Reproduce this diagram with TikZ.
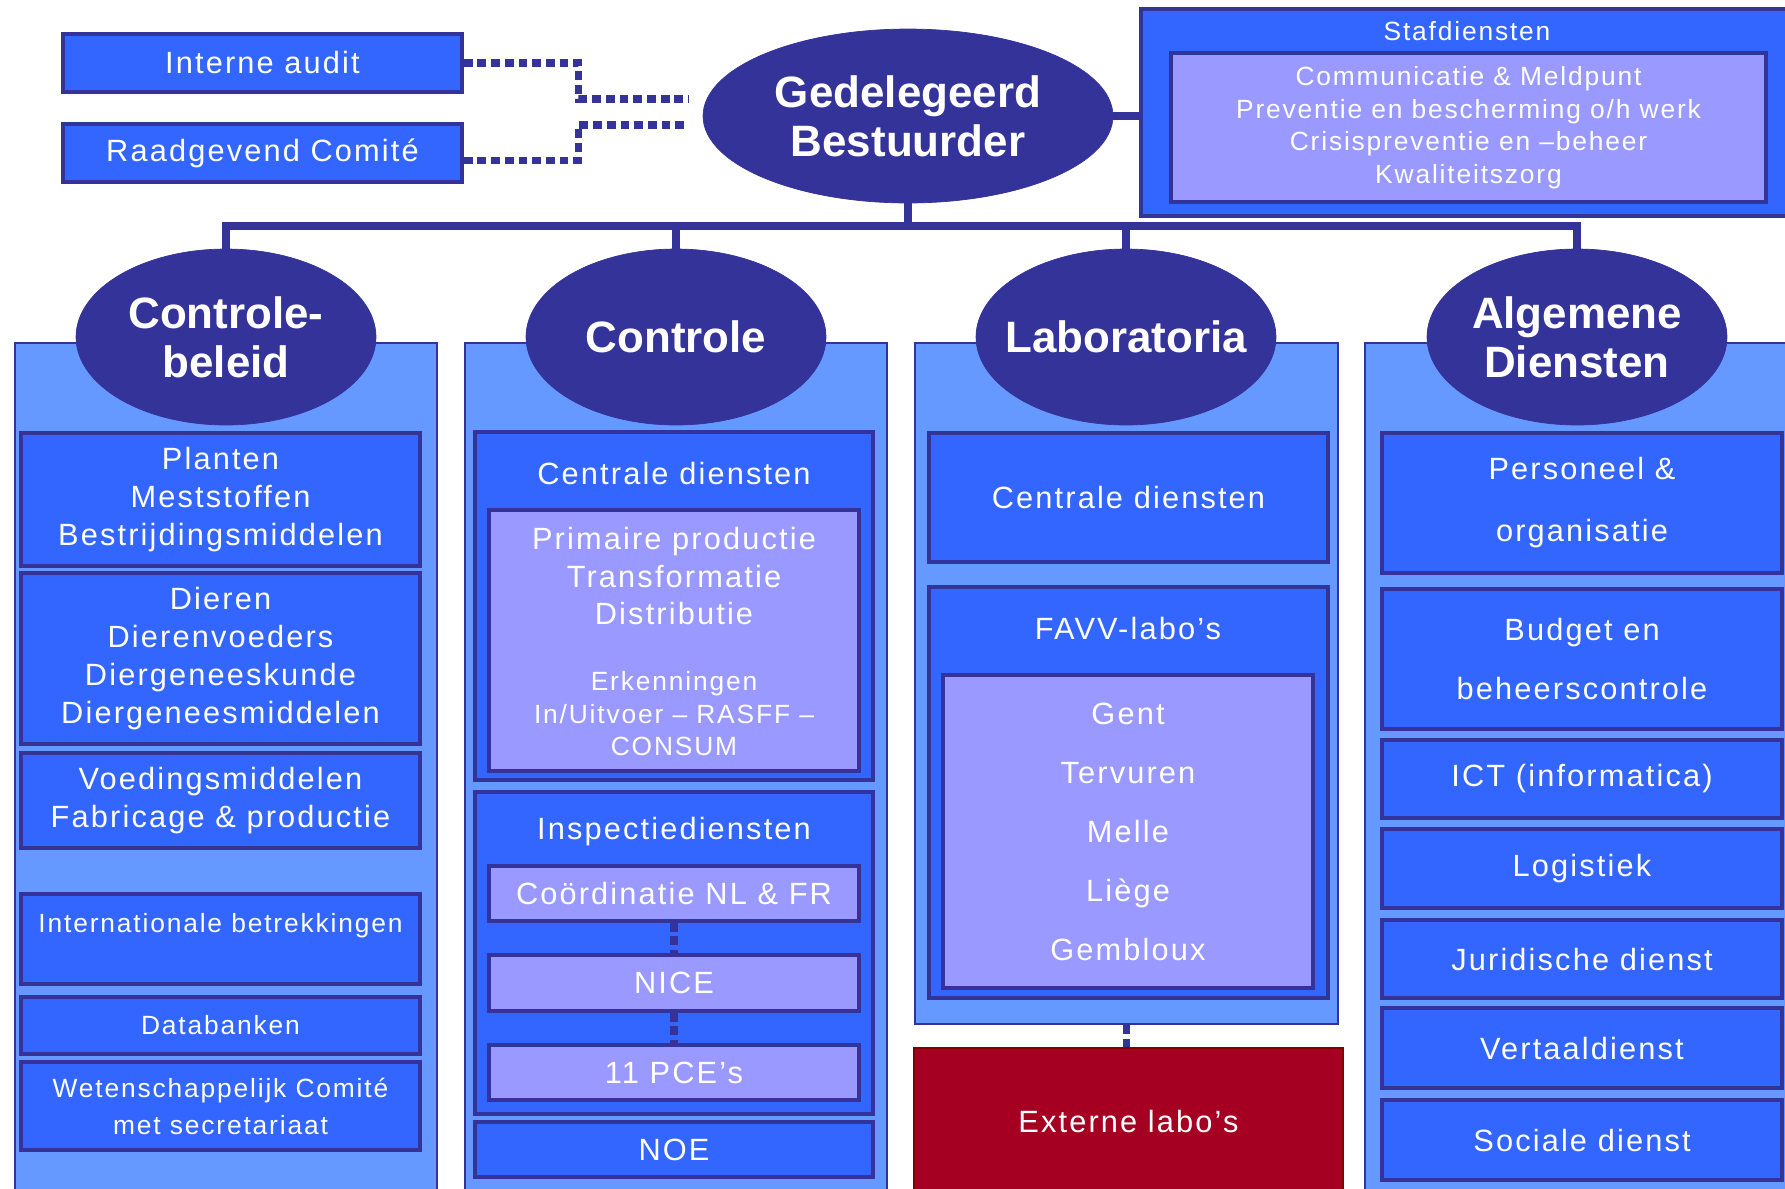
\documentclass[tikz,border=0pt]{standalone}
\usepackage{fontspec}
\setmainfont{Liberation Sans}[LetterSpace=7]
\newfontfamily\headfont{Liberation Sans}
\usetikzlibrary{shapes.geometric}

\definecolor{navy}{HTML}{333399}
\definecolor{unitblue}{HTML}{3366FF}
\definecolor{colblue}{HTML}{6699FF}
\definecolor{lilac}{HTML}{9999FF}
\definecolor{labred}{HTML}{A50021}
\definecolor{labedge}{HTML}{800000}

\newcommand{\bigtxt}{\fontsize{17.5pt}{21.6pt}\selectfont}
\newcommand{\smalltxt}{\fontsize{15pt}{18.5pt}\selectfont}
\newcommand{\headtxt}{\headfont\bfseries\fontsize{25pt}{28pt}\selectfont}

\tikzset{
  every node/.style={text=white, inner sep=0pt, align=center},
  area/.style n args={4}{at={({(#1+#3)/2},{(#2+#4)/2})},
    minimum width={(#3-#1)*0.02cm}, minimum height={(#4-#2)*0.02cm}},
  unit/.style={draw=navy, fill=unitblue, line width=2pt, font=\bigtxt},
  subunit/.style={unit, fill=lilac},
  column/.style={draw=navy, fill=colblue, line width=1.5pt},
  dept/.style={ellipse, draw=navy, fill=navy, inner xsep=-15pt,
    minimum width=6cm, minimum height=3.52cm, font=\headtxt},
  bus/.style={navy, line width=4.5pt},
  dotline/.style={navy, line width=4pt, dash pattern=on 5pt off 2.8pt},
}

\begin{document}
\begin{tikzpicture}[x=0.02cm, y=-0.02cm]
\useasboundingbox (0,0) rectangle (1785,1188);

\node[unit, area={63}{34}{462}{92}] (ia) {Interne audit};
\node[unit, area={63}{124}{462}{182}] (rc) {Raadgevend Comité};
\node[unit, area={1141}{9}{1800}{216}] (staf) {};
\node[font=\smalltxt] (staftitle) at (1467,31) {Stafdiensten};
\node[subunit, font=\smalltxt, area={1171}{53}{1766}{202}] (stafin)
  {Communicatie \& Meldpunt\\Preventie en bescherming o/h werk\\Crisispreventie en –beheer\\Kwaliteitszorg};

\node[column, area={15}{343}{437}{1200}] (cbcol) {};
\node[column, area={465}{343}{887}{1200}] (ctcol) {};
\node[column, area={915}{343}{1338}{1024}] (labcol) {};
\node[column, area={1365}{343}{1800}{1200}] (adcol) {};

\node[dept, minimum width=8.2cm, minimum height=3.48cm] (gb) at (908,116) {Gedelegeerd\\Bestuurder};
\node[dept] (cb) at (226,337) {Controle-\\beleid};
\node[dept] (ct) at (676,337) {Controle};
\node[dept] (lab) at (1126,337) {Laboratoria};
\node[dept] (ad) at (1577,337) {Algemene\\Diensten};

\coordinate (busy) at (0,226);
\draw[bus] (gb.south) -- (gb.south |- busy);
\draw[bus] (cb.north) -- (cb.north |- busy) -- (ad.north |- busy) -- (ad.north);
\draw[bus] (ct.north) -- (ct.north |- busy);
\draw[bus] (lab.north) -- (lab.north |- busy);
\draw[bus] (gb.east) -- (staf.west |- gb.east);

\coordinate (iaend) at (689,99);
\coordinate (rcend) at (689,125);
\draw[dotline] (ia.east) -- ++(115,0) |- (iaend);
\draw[dotline] ([yshift=-4pt]rc.east) -- ++(115,0) |- (rcend);

\node[unit, area={21}{433}{420}{566}] (plant) {Planten\\Meststoffen\\Bestrijdingsmiddelen};
\node[unit, area={21}{573}{420}{744}] (dier) {Dieren\\Dierenvoeders\\Diergeneeskunde\\Diergeneesmiddelen};
\node[unit, area={21}{753}{420}{848}] (voed) {Voedingsmiddelen\\Fabricage \& productie};
\node[unit, font=\smalltxt, area={21}{894}{420}{984}] (intl) {Internationale betrekkingen\\\mbox{}};
\node[unit, font=\smalltxt, area={21}{997}{420}{1054}] (datab) {Databanken};
\node[unit, font={\fontsize{15pt}{21pt}\selectfont}, area={21}{1062}{420}{1150}] (wet) {Wetenschappelijk Comité\\met secretariaat};

\node[unit, area={475}{432}{873}{780}] (cdc) {};
\node[font=\bigtxt] (cdctitle) at (674,473) {Centrale diensten};
\node[subunit, area={489}{510}{859}{771}] (prim) {};
\node[font={\fontsize{17.5pt}{21.3pt}\selectfont}] (primtxt) at (674,576) {Primaire productie\\Transformatie\\Distributie};
\node[font=\smalltxt] (erktxt) at (674,714) {Erkenningen\\In/Uitvoer – RASFF –\\CONSUM};
\node[unit, area={475}{792}{873}{1114}] (insp) {};
\node[font=\bigtxt] (insptitle) at (674,832) {Inspectiediensten};
\node[subunit, area={489}{866}{859}{921}] (coord) {Coördinatie NL \& FR};
\node[subunit, area={489}{955}{859}{1011}] (nice) {NICE};
\node[subunit, area={489}{1045}{859}{1100}] (pce) {11 PCE’s};
\draw[dotline] (coord.south) -- (nice.north);
\draw[dotline] (nice.south) -- (pce.north);
\node[unit, area={475}{1122}{873}{1177}] (noe) {NOE};

\node[unit, area={929}{433}{1328}{562}] (cdl) {Centrale diensten};
\node[unit, area={929}{587}{1328}{998}] (favv) {};
\node[font=\bigtxt] (favvtitle) at (1128,628) {FAVV-labo’s};
\node[subunit, font={\fontsize{17.5pt}{33.6pt}\selectfont}, area={943}{675}{1313}{988}] (labos)
  {Gent\\Tervuren\\Melle\\Liège\\Gembloux};
\node[unit, fill=labred, draw=labedge, line width=1pt, area={914}{1048}{1343}{1194}] (ext) {Externe labo’s};
\draw[dotline] (labcol.south) -- (labcol.south |- ext.north);

\node[unit, font={\fontsize{17.5pt}{35.3pt}\selectfont}, area={1382}{433}{1782}{573}] (pers) {Personeel \&\\organisatie};
\node[unit, font={\fontsize{17.5pt}{34.1pt}\selectfont}, area={1382}{589}{1782}{729}] (budg) {Budget en\\beheerscontrole};
\node[unit, area={1382}{740}{1782}{818}] (ict) {ICT (informatica)};
\node[unit, area={1382}{829}{1782}{908}] (logi) {Logistiek};
\node[unit, area={1382}{920}{1782}{998}] (jur) {Juridische dienst};
\node[unit, area={1382}{1008}{1782}{1088}] (vert) {Vertaaldienst};
\node[unit, area={1382}{1100}{1782}{1180}] (soc) {Sociale dienst};
\end{tikzpicture}
\end{document}
